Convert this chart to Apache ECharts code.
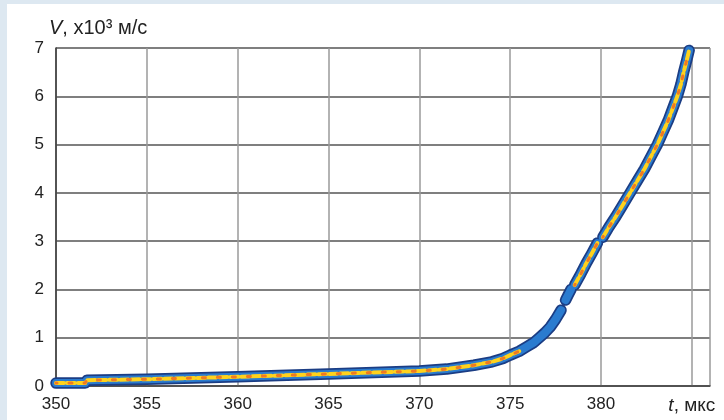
<!DOCTYPE html>
<html>
<head>
<meta charset="utf-8">
<script src="https://cdn.jsdelivr.net/npm/echarts@6/dist/echarts.min.js"></script>
<style>
  html, body { margin: 0; padding: 0; background: #dde8f1; }
  #chart { position: absolute; left: 7px; top: 4px; width: 717px; height: 416px; background: #ffffff; }
</style>
</head>
<body>
<div id="chart"></div>
<script>
// Velocity V (x10^3 m/s) against time t (µs); null marks a break in the trace
const timeUs = [350.0, 351.6, 351.7, 355, 360, 365, 370, 371.5, 373, 374, 374.6, 375, 375.5, 375.9, 376.3, 376.6, 376.9, 377.2, 377.5, 377.8,
                377.9,
                378.05, 378.2, 378.35,
                378.45,
                378.55, 378.9, 379.2, 379.5, 379.8,
                379.95,
                380.1, 380.45, 380.8, 381.2, 381.6, 382.0, 382.4, 382.75, 383.1, 383.4, 383.7, 383.95, 384.2, 384.4, 384.55, 384.72, 384.85];
const velocity = [0.06, 0.06, 0.12, 0.14, 0.19, 0.25, 0.31, 0.35, 0.43, 0.50, 0.57, 0.64, 0.72, 0.81, 0.90, 1.00, 1.10, 1.22, 1.38, 1.57,
                  null,
                  1.78, 1.89, 2.00,
                  null,
                  2.09, 2.33, 2.55, 2.75, 2.96,
                  null,
                  3.08, 3.30, 3.50, 3.75, 4.00, 4.25, 4.50, 4.75, 5.00, 5.25, 5.50, 5.75, 6.00, 6.25, 6.50, 6.75, 6.95];

// Tick labels
const xTicks = [350, 355, 360, 365, 370, 375, 380, 385];
const yTicks = [0, 1, 2, 3, 4, 5, 6, 7];

const font = 'Liberation Sans, Arial, sans-serif';

const trace = timeUs.map((t, i) => [t, velocity[i] === null ? '-' : velocity[i]]);
// bright core of the trace (the steep blue section has little of it)
const core = timeUs.map((t, i) => {
  const v = velocity[i];
  if (v === null || (t > 375.8 && t < 378.5)) return [t, '-'];
  return [t, v];
});

function band(name, data, width, color, dash, offset, z) {
  return {
    name, type: 'line', data, showSymbol: false, symbol: 'none',
    smooth: false, connectNulls: false, z,
    lineStyle: { width, color, type: dash || 'solid', dashOffset: offset || 0, cap: 'round', join: 'round' },
    animation: false, silent: true
  };
}

const chart = echarts.init(document.getElementById('chart'), null, { renderer: 'canvas' });
chart.setOption({
  animation: false,
  grid: { left: 49, right: 14, top: 44, bottom: 34 },
  xAxis: {
    type: 'value', min: xTicks[0], max: 386, interval: 5,
    axisLine: { show: true, lineStyle: { color: '#444', width: 1.5 } },
    axisTick: { show: false },
    splitLine: { show: true, lineStyle: { color: '#9a9a9a', width: 1.5 } },
    axisLabel: {
      margin: 10, fontSize: 17, color: '#222', fontFamily: font,
      formatter: v => v === xTicks[xTicks.length - 1] ? '{i|t}{u|, мкс}' : (xTicks.indexOf(v) >= 0 ? String(v) : ''),
      rich: {
        i: { fontStyle: 'italic', fontSize: 19, color: '#222', fontFamily: font },
        u: { fontSize: 19, color: '#222', fontFamily: font }
      }
    }
  },
  yAxis: {
    type: 'value', min: yTicks[0], max: yTicks[yTicks.length - 1], interval: 1,
    name: '{i|V}, x10³ м/с',
    nameLocation: 'end', nameGap: 10,
    nameTextStyle: {
      align: 'left', verticalAlign: 'bottom', padding: [0, 0, 0, -7],
      fontSize: 20, color: '#222', fontFamily: font,
      rich: { i: { fontStyle: 'italic', fontSize: 20, color: '#222', fontFamily: font } }
    },
    axisLine: { show: true, lineStyle: { color: '#333', width: 1.5 } },
    axisTick: { show: false },
    splitLine: { show: true, lineStyle: { color: '#555', width: 1.5 } },
    axisLabel: { margin: 12, fontSize: 17, color: '#222', fontFamily: font }
  },
  series: [
    band('outline', trace, 11.5, '#1b3d84', null, 0, 3),
    band('body', trace, 8, '#2a7bcf', null, 0, 4),
    band('core', core, 4, '#ffd21c', [8, 3], 0, 5),
    band('hot', core, 3, '#f07a22', [3, 12], 2, 6)
  ]
});
</script>
</body>
</html>
